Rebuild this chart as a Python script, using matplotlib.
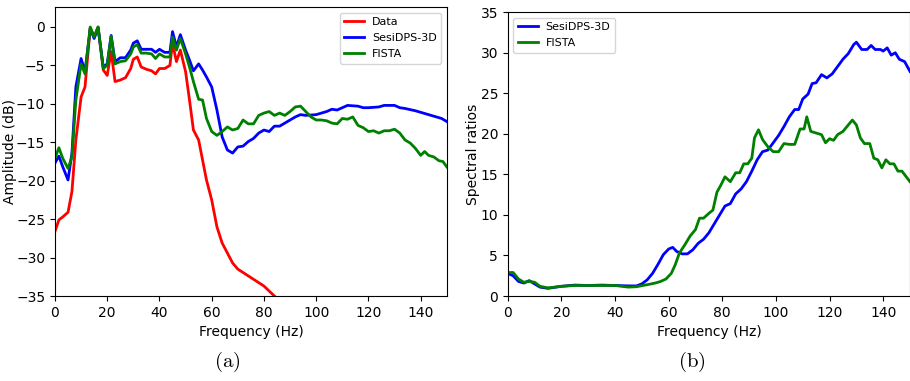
import matplotlib
matplotlib.use("Agg")
import matplotlib.pyplot as plt

plt.rcParams['mathtext.fontset'] = 'cm'

# ---- panel (a): amplitude spectra ----
f_data = [0, 1.5, 3, 5, 6.5, 8, 10, 11.5, 13.5, 15, 16.5, 18.5, 20, 21.5, 23, 25, 27, 29, 30,
          31.5, 33, 35, 37, 38.5, 40, 42, 44, 45, 46.5, 48, 50, 51.5, 53, 55, 56.5, 58, 60,
          62, 64, 66, 68, 70, 75, 80, 84, 90, 100, 120, 150]
data_db = [-26.6, -25.1, -24.7, -24.1, -21.4, -14.7, -9.1, -7.8, -0.1, -1.3, 0, -5.6, -6.3,
           -3.2, -7.1, -6.9, -6.6, -5.4, -4.2, -3.9, -5.2, -5.5, -5.7, -6.1, -5.4, -5.4, -5.0,
           -2.1, -4.5, -3.0, -5.8, -9.5, -13.4, -14.7, -17.3, -19.9, -22.5, -26.0, -28.1, -29.4,
           -30.7, -31.5, -32.6, -33.7, -35.0, -36.8, -39.0, -42.0, -45.0]

f_sesi_a = [0, 1.5, 3, 5, 6.5, 8, 10, 11.5, 13.5, 15, 16.5, 18.5, 20, 21.5, 23, 25, 27, 29, 30,
            31.5, 33, 35, 37, 38.5, 40, 42, 44, 45, 46.5, 48, 50, 51.5, 53, 55, 56.5, 58, 60,
            62, 64, 66, 68, 70, 72, 74, 76, 78, 80, 82, 84, 86, 88, 90, 92, 94, 96, 100, 104,
            106, 108, 110, 112, 116, 118, 120, 124, 126, 130, 132, 134, 138, 142, 144, 146, 148, 150]
sesi_db = [-17.7, -16.8, -18.2, -19.9, -16.4, -7.8, -4.1, -5.8, -0.2, -1.5, -0.1, -5.2, -4.8,
           -1.1, -4.5, -4.0, -4.0, -3.0, -2.1, -1.8, -2.9, -2.9, -2.9, -3.3, -2.9, -3.3, -3.3,
           -0.6, -2.6, -1.0, -3.0, -4.3, -5.7, -4.8, -5.6, -6.5, -7.8, -10.8, -14.3, -16.0,
           -16.4, -15.6, -15.5, -14.9, -14.5, -13.8, -13.4, -13.6, -12.9, -12.9, -12.5, -12.1,
           -11.7, -11.4, -11.5, -11.4, -11.0, -10.7, -10.8, -10.5, -10.2, -10.3, -10.5, -10.5,
           -10.4, -10.2, -10.2, -10.5, -10.6, -10.9, -11.3, -11.5, -11.7, -11.9, -12.3]

f_fista_a = [0, 1.5, 3, 5, 6.5, 8, 10, 11.5, 13.5, 15, 16.5, 18.5, 20, 21.5, 23, 25, 27, 29, 30,
             31.5, 33, 35, 37, 38.5, 40, 42, 44, 45, 46.5, 48, 50, 51.5, 53, 55, 56.5, 58, 60,
             62, 64, 66, 68, 70, 72, 74, 76, 78, 80, 82, 84, 86, 88, 90, 92, 94, 96, 98, 100,
             102, 104, 106, 108, 110, 112, 114, 116, 118, 120, 122, 124, 126, 128, 130, 132,
             134, 136, 138, 140, 141.5, 143, 145, 147, 148.5, 150]
fista_db = [-17.1, -15.7, -17.1, -18.4, -16.9, -9.5, -4.8, -6.1, 0, -1.3, 0, -5.4, -5.0, -1.2,
            -4.8, -4.5, -4.4, -3.5, -2.6, -2.3, -3.4, -3.4, -3.5, -4.1, -3.5, -3.9, -3.9, -1.3,
            -3.0, -1.5, -3.5, -5.2, -7.1, -9.4, -9.5, -11.9, -13.6, -14.1, -13.6, -13.0, -13.4,
            -13.2, -12.1, -12.6, -12.6, -11.5, -11.2, -11.0, -11.5, -11.2, -11.5, -11.0, -10.4,
            -10.3, -11.0, -11.7, -12.1, -12.1, -12.2, -12.5, -12.6, -11.9, -12.0, -11.7, -12.8,
            -13.1, -13.6, -13.5, -13.8, -13.5, -13.5, -13.3, -13.8, -14.7, -15.1, -15.8, -16.7,
            -16.2, -16.7, -16.9, -17.4, -17.5, -18.2]

# ---- panel (b): spectral ratios ----
f_sesi_b = [0, 2, 4, 6, 8, 10, 12, 15, 20, 25, 30, 35, 40, 45, 48, 50, 52, 54, 56, 58, 60, 61.5,
            63, 65, 67, 69, 71, 73, 75, 77, 79, 81, 83, 85, 87, 89, 91, 93, 95, 97, 99, 101,
            103, 105, 107, 108.5, 110, 112, 113.5, 115, 117, 119, 121, 123, 125, 127, 129, 130,
            132, 134, 135.5, 137, 139, 140, 141.5, 143, 144.5, 146, 148, 150]
sesi_ratio = [2.8, 2.5, 1.8, 1.6, 1.9, 1.5, 1.1, 0.95, 1.2, 1.35, 1.3, 1.35, 1.3, 1.25, 1.25,
              1.5, 2.0, 2.8, 3.9, 5.1, 5.8, 6.0, 5.5, 5.2, 5.2, 5.7, 6.5, 7.0, 7.8, 8.9, 10.0,
              11.1, 11.4, 12.6, 13.2, 14.1, 15.4, 16.8, 17.8, 18.0, 18.9, 19.8, 20.9, 22.1, 23.0,
              23.0, 24.3, 24.9, 26.2, 26.3, 27.3, 26.9, 27.4, 28.3, 29.2, 29.9, 31.0, 31.3, 30.4,
              30.4, 30.9, 30.4, 30.4, 30.2, 30.6, 29.7, 30.0, 29.2, 28.9, 27.7]

f_fista_b = [0, 2, 4, 6, 8, 10, 12, 15, 20, 25, 30, 35, 40, 45, 48, 52, 55, 57, 59, 61, 62.5,
             64, 66, 68, 70, 71.5, 73, 75, 76.5, 78, 79.5, 81, 83, 85, 86.5, 88, 89.5, 91, 92,
             93.5, 95, 97, 99, 101, 103, 105, 107, 109, 110.5, 111.5, 113, 115, 117, 118.5, 120,
             121.5, 123, 125, 127, 128.5, 130, 131.5, 133, 135, 136.5, 138, 139.5, 141, 142.5,
             144, 145.5, 147, 150]
fista_ratio = [2.9, 2.9, 2.1, 1.7, 1.8, 1.7, 1.2, 1.0, 1.2, 1.3, 1.3, 1.3, 1.3, 1.1, 1.15, 1.4,
               1.6, 1.8, 2.1, 2.8, 3.9, 5.3, 6.3, 7.4, 8.2, 9.6, 9.6, 10.2, 10.6, 12.8, 13.7,
               14.7, 14.1, 15.2, 15.2, 16.3, 16.3, 17.0, 19.5, 20.5, 19.3, 18.4, 17.8, 17.8, 18.8,
               18.7, 18.7, 20.6, 20.6, 22.1, 20.3, 20.1, 19.9, 18.9, 19.4, 19.2, 19.9, 20.3, 21.1,
               21.7, 21.1, 19.5, 18.8, 18.8, 17.0, 16.8, 15.8, 16.8, 16.3, 16.3, 15.4, 15.4, 14.1]

fig = plt.figure(figsize=(9.1, 3.81), dpi=100)

leg_kw = dict(fontsize=8, handlelength=1.8, handletextpad=0.7, labelspacing=0.55)

ax1 = fig.add_axes([0.0604, 0.223, 0.4306, 0.7586])
ax1.plot(f_data, data_db, color='red', lw=2, label='Data')
ax1.plot(f_sesi_a, sesi_db, color='blue', lw=2, label='SesiDPS-3D')
ax1.plot(f_fista_a, fista_db, color='green', lw=2, label='FISTA')
ax1.set_xlim(0, 150)
ax1.set_ylim(-35, 2.6)
ax1.set_xlabel('Frequency (Hz)')
ax1.set_ylabel('Amplitude (dB)')
ax1.yaxis.set_label_coords(-0.097, 0.5)
ax1.legend(loc='upper right', **leg_kw)

ax2 = fig.add_axes([0.558, 0.223, 0.442, 0.745])
ax2.plot(f_sesi_b, sesi_ratio, color='blue', lw=2, label='SesiDPS-3D')
ax2.plot(f_fista_b, fista_ratio, color='green', lw=2, label='FISTA')
ax2.set_xlim(0, 150)
ax2.set_ylim(0, 35)
ax2.set_xlabel('Frequency (Hz)')
ax2.set_ylabel('Spectral ratios')
ax2.yaxis.set_label_coords(-0.069, 0.5)
ax2.legend(loc='upper left', **leg_kw)

fig.text(0.25, 0.05, r'$\mathrm{(a)}$', fontsize=15, ha='center', va='center')
fig.text(0.76, 0.05, r'$\mathrm{(b)}$', fontsize=15, ha='center', va='center')

fig.savefig('out.png', dpi=100)
